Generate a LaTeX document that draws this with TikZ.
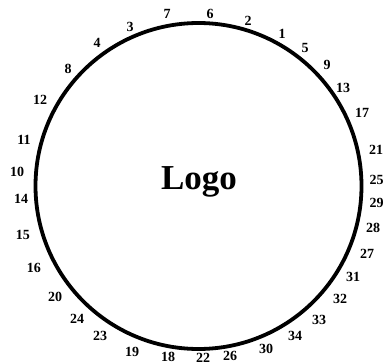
\documentclass[tikz,border=0pt]{standalone}
\usepackage{fontspec}
\setmainfont{Liberation Serif}
\begin{document}
\begin{tikzpicture}[x=1pt,y=-1pt,
  num/.style={font=\fontsize{14}{14}\selectfont\bfseries, inner sep=0pt},
  ring/.style={draw=black, line width=3.8pt}]
\useasboundingbox (0,0) rectangle (383,364);
\node[ring, circle, minimum size=326pt, inner sep=0pt] (c) at (198.5,186) {};
\node[font=\fontsize{35}{35}\selectfont\bfseries] (logo) at (199,182) {Logo};
% top
\node[num] (n7) at (167,14) {7};
\node[num] (n6) at (210,14) {6};
\node[num] (n2) at (248,21) {2};
\node[num] (n1) at (282,34) {1};
\node[num] (n5) at (305,48) {5};
\node[num] (n9) at (327,65) {9};
\node[num] (n13) at (343,88) {13};
\node[num] (n17) at (362,113) {17};
\node[num] (n3) at (130,27) {3};
\node[num] (n4) at (97,43) {4};
\node[num] (n8) at (68,69) {8};
\node[num] (n12) at (40,100) {12};
% left
\node[num] (n11) at (24,140) {11};
\node[num] (n10) at (17,172) {10};
\node[num] (n14) at (21,199) {14};
\node[num] (n15) at (23,235) {15};
\node[num] (n16) at (34,268) {16};
\node[num] (n20) at (55,297) {20};
\node[num] (n24) at (77,319) {24};
\node[num] (n23) at (100,336) {23};
\node[num] (n19) at (132,352) {19};
% bottom
\node[num] (n18) at (168,357) {18};
\node[num] (n22) at (203,357.5) {22};
\node[num] (n26) at (230,356) {26};
\node[num] (n30) at (266,349) {30};
\node[num] (n34) at (295,336) {34};
\node[num] (n33) at (319,320) {33};
\node[num] (n32) at (340,299) {32};
\node[num] (n31) at (353,277) {31};
% right
\node[num] (n27) at (367,254) {27};
\node[num] (n28) at (373,228) {28};
\node[num] (n29) at (376.5,203) {29};
\node[num] (n25) at (376.5,180) {25};
\node[num] (n21) at (376,150) {21};
\end{tikzpicture}
\end{document}
